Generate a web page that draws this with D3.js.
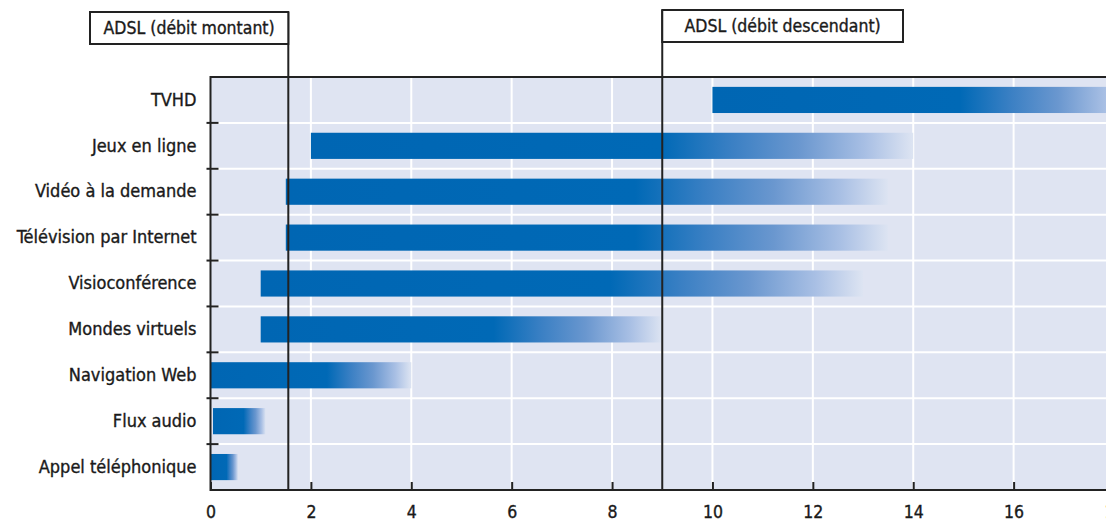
<!DOCTYPE html>
<html>
<head>
<meta charset="utf-8">
<style>
body { margin: 0; background: #fff; }
text { font-family: "Liberation Sans Narrow", "DejaVu Sans Condensed", "Arial Narrow", sans-serif; fill: #1a1a1a; stroke: #1a1a1a; stroke-width: 0.35px; }
.cat text { font-size: 18px; }
.xax text { font-size: 17.5px; }
.lbl { font-size: 17.5px; }
</style>
<script src="https://d3js.org/d3.v7.min.js"></script>
</head>
<body>
<div id="chart"></div>
<script>
// Débit requis par usage (Mbit/s)
var categories = ["TVHD", "Jeux en ligne", "Vidéo à la demande", "Télévision par Internet",
  "Visioconférence", "Mondes virtuels", "Navigation Web", "Flux audio", "Appel téléphonique"];
var minRate = [10, 2, 1.5, 1.5, 1, 1, 0, 0.05, 0];
var maxRate = [18.5, 14, 13.5, 13.5, 13, 9, 4, 1.1, 0.55];
var xTicks = [0, 2, 4, 6, 8, 10, 12, 14, 16, 18];
var refNames = ["ADSL (débit montant)", "ADSL (débit descendant)"];
var refValues = [1.55, 9];

var width = 1106, height = 523;
var margin = {top: 77, right: -8, bottom: 33, left: 210.5};

var svg = d3.select("#chart").append("svg")
  .attr("width", width).attr("height", height);

var defs = svg.append("defs");
var grad = defs.append("linearGradient").attr("id", "fade");
[[0, "#0066b3"], [0.58, "#0069b6"], [0.7, "#3b80c4"], [0.81, "#6a97cf"], [0.92, "#a8bfe4"], [1, "#dde4f2"]]
  .forEach(s => grad.append("stop").attr("offset", s[0]).attr("stop-color", s[1]));

var x = d3.scaleLinear().domain([0, 18]).range([margin.left, width - margin.right]);
var y = d3.scaleBand().domain(categories).range([margin.top, height - margin.bottom]);

// fond
svg.append("rect")
  .attr("x", x(0)).attr("y", y.range()[0])
  .attr("width", x(18) - x(0)).attr("height", y.range()[1] - y.range()[0])
  .attr("fill", "#dfe4f2");

// grille
svg.append("g").selectAll("line").data(xTicks.slice(1)).join("line")
  .attr("x1", d => x(d)).attr("x2", d => x(d))
  .attr("y1", y.range()[0]).attr("y2", y.range()[1])
  .attr("stroke", "#fff").attr("stroke-width", 2);
svg.append("g").selectAll("line").data(categories.slice(1)).join("line")
  .attr("x1", x(0)).attr("x2", x(18))
  .attr("y1", d => y(d)).attr("y2", d => y(d))
  .attr("stroke", "#fff").attr("stroke-width", 2);

// barres
var barH = y.bandwidth() * 0.57;
svg.append("g").selectAll("rect").data(categories).join("rect")
  .attr("x", (d, i) => x(minRate[i]))
  .attr("y", d => y(d) + (y.bandwidth() - barH) / 2)
  .attr("width", (d, i) => x(maxRate[i]) - x(minRate[i]))
  .attr("height", barH)
  .attr("fill", "url(#fade)");

// cadre
svg.append("rect")
  .attr("x", x(0)).attr("y", y.range()[0])
  .attr("width", x(18) - x(0)).attr("height", y.range()[1] - y.range()[0])
  .attr("fill", "none").attr("stroke", "#222").attr("stroke-width", 2);

// axe x
var xAxis = svg.append("g").attr("class", "xax")
  .attr("transform", `translate(0,${y.range()[1]})`)
  .call(d3.axisBottom(x).tickValues(xTicks).tickSize(-8).tickPadding(14).tickFormat(d3.format("d")));
xAxis.select(".domain").remove();
xAxis.selectAll("line").attr("stroke", "#222").attr("stroke-width", 2);
xAxis.selectAll("text").attr("dy", "0.8em");

// axe y (catégories)
var yAxis = svg.append("g").attr("class", "cat")
  .attr("transform", `translate(${x(0)},0)`)
  .call(d3.axisLeft(y).tickSize(0).tickPadding(14));
yAxis.select(".domain").remove();
svg.append("g").selectAll("line").data(categories.slice(1)).join("line")
  .attr("x1", x(0) - 4).attr("x2", x(0) + 8)
  .attr("y1", d => y(d)).attr("y2", d => y(d))
  .attr("stroke", "#222").attr("stroke-width", 2);

// repères ADSL
var boxes = [{x0: 90, x1: x(refValues[0]), top: 12, bottom: 44},
             {x0: x(refValues[1]), x1: 903, top: 10, bottom: 42}];
refValues.forEach(function (v, i) {
  var b = boxes[i];
  svg.append("line")
    .attr("x1", x(v)).attr("x2", x(v))
    .attr("y1", b.top).attr("y2", y.range()[1])
    .attr("stroke", "#222").attr("stroke-width", 2);
  svg.append("rect")
    .attr("x", b.x0).attr("y", b.top)
    .attr("width", b.x1 - b.x0).attr("height", b.bottom - b.top)
    .attr("fill", "#fff").attr("stroke", "#222").attr("stroke-width", 2);
  svg.append("text").attr("class", "lbl")
    .attr("x", (b.x0 + b.x1) / 2).attr("y", b.bottom - 10)
    .attr("text-anchor", "middle")
    .text(refNames[i]);
});
</script>
</body>
</html>
